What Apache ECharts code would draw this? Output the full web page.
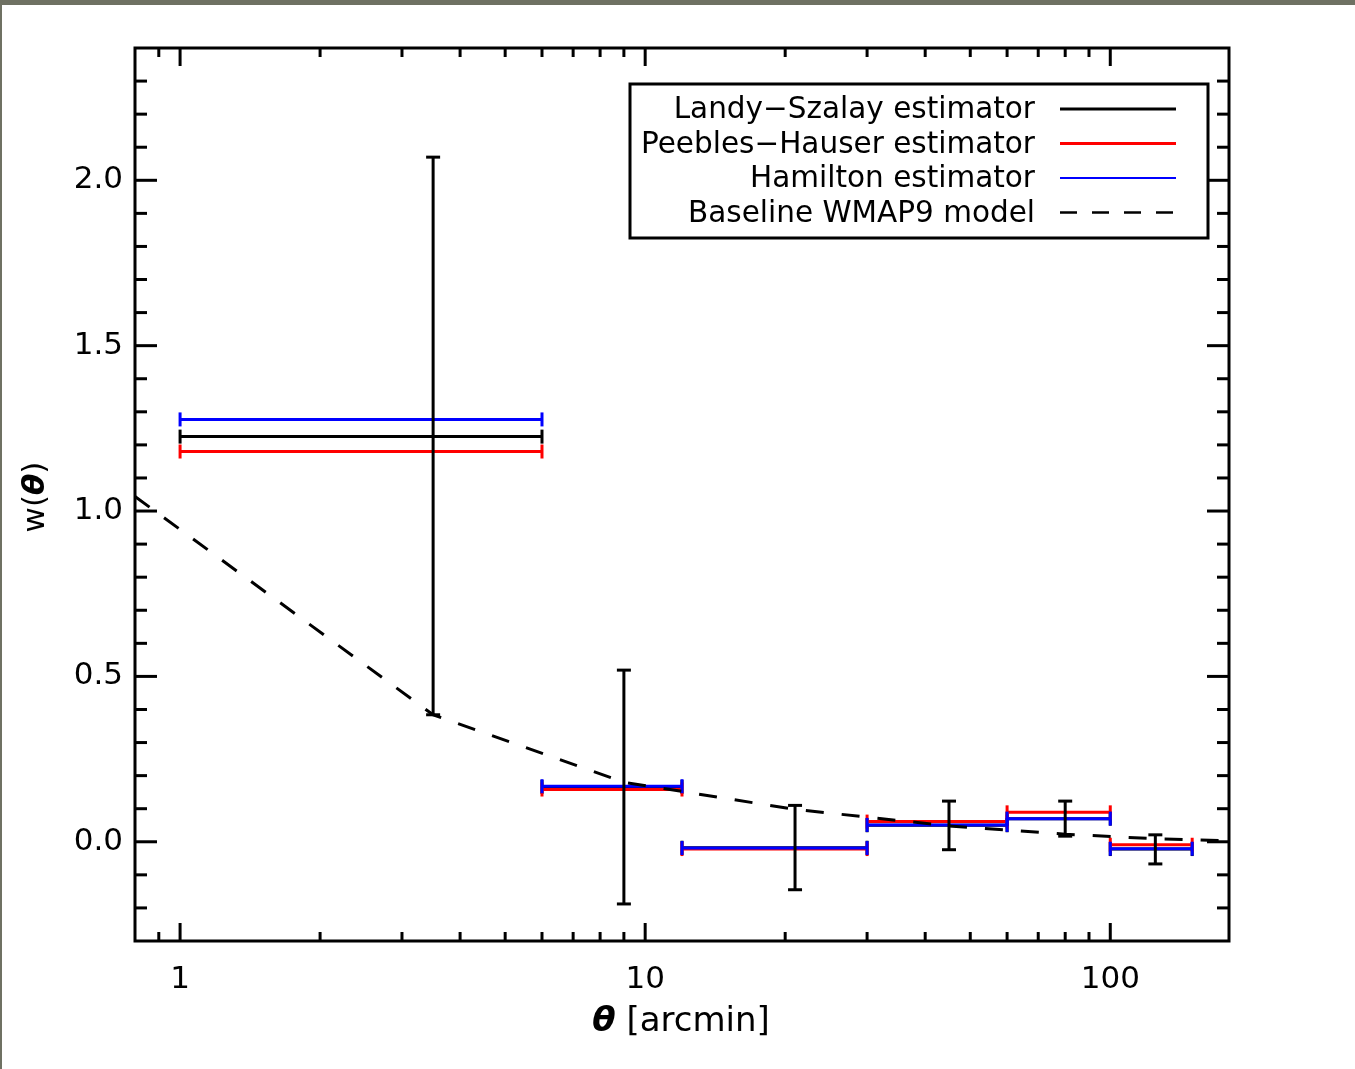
<!DOCTYPE html>
<html><head><meta charset="utf-8">
<script src="https://cdn.jsdelivr.net/npm/echarts@6/dist/echarts.min.js"></script>
<style>
html,body{margin:0;padding:0;background:#fff;}
#c{position:absolute;left:0;top:0;width:1355px;height:1069px;}
#bt{position:absolute;left:0;top:0;width:1355px;height:5px;background:#6f7163;}
#bl{position:absolute;left:0;top:0;width:2px;height:1069px;background:#6f7163;}
</style></head>
<body><div id="c"></div><div id="bt"></div><div id="bl"></div>
<script>
// ---- data ----
const binLow    = [1, 6, 12, 30, 60, 100];
const binHigh   = [6, 12, 30, 60, 100, 150];
const binCenter = [3.5, 9, 21, 45, 80, 125];
const landySzalay   = [1.225, 0.166, -0.018, 0.050, 0.070, -0.022];
const lsErrLow      = [0.384, -0.188, -0.145, -0.024, 0.017, -0.067];
const lsErrHigh     = [2.070, 0.519, 0.110, 0.123, 0.123, 0.021];
const peeblesHauser = [1.180, 0.158, -0.022, 0.061, 0.089, -0.009];
const hamilton      = [1.277, 0.168, -0.019, 0.051, 0.070, -0.021];
const modelTheta = [0.8, 3.5, 9, 21, 45, 80, 125, 180];
const modelW     = [1.044, 0.384, 0.180, 0.098, 0.048, 0.023, 0.009, 0.003];
const xMajorTicks = [1, 10, 100];
const xMinorTicks = [0.9, 2, 3, 4, 5, 6, 7, 8, 9, 20, 30, 40, 50, 60, 70, 80, 90];
const yMajorTicks = [0, 0.5, 1.0, 1.5, 2.0];
const yMinorTicks = [-0.2, -0.1, 0.1, 0.2, 0.3, 0.4, 0.6, 0.7, 0.8, 0.9, 1.1, 1.2, 1.3, 1.4, 1.6, 1.7, 1.8, 1.9, 2.1, 2.2, 2.3];
const xLabels = [1, 10, 100];
const legendNames = ['Landy\u2212Szalay estimator', 'Peebles\u2212Hauser estimator', 'Hamilton estimator', 'Baseline WMAP9 model'];
const X_MIN = 0.8, X_MAX = 180, Y_MIN = -0.3, Y_MAX = 2.4;

// ---- build ----
const FONT = 'DejaVu Sans';
const chart = echarts.init(document.getElementById('c'), null, {renderer: 'canvas'});

function hbarRender(color, lw) {
  return function (params, api) {
    const a = api.coord([api.value(0), api.value(2)]);
    const b = api.coord([api.value(1), api.value(2)]);
    const c = 7;
    const st = {stroke: color, lineWidth: lw};
    return {type: 'group', children: [
      {type: 'line', shape: {x1: a[0], y1: a[1], x2: b[0], y2: b[1]}, style: st},
      {type: 'line', shape: {x1: a[0], y1: a[1] - c, x2: a[0], y2: a[1] + c}, style: st},
      {type: 'line', shape: {x1: b[0], y1: b[1] - c, x2: b[0], y2: b[1] + c}, style: st}
    ]};
  };
}
function vbarRender(params, api) {
  const a = api.coord([api.value(0), api.value(1)]);
  const b = api.coord([api.value(0), api.value(2)]);
  const c = 7;
  const st = {stroke: '#000', lineWidth: 3};
  return {type: 'group', children: [
    {type: 'line', shape: {x1: a[0], y1: a[1], x2: b[0], y2: b[1]}, style: st},
    {type: 'line', shape: {x1: a[0] - c, y1: a[1], x2: a[0] + c, y2: a[1]}, style: st},
    {type: 'line', shape: {x1: b[0] - c, y1: b[1], x2: b[0] + c, y2: b[1]}, style: st}
  ]};
}
function xTickRender(len) {
  return function (params, api) {
    const v = api.value(0);
    const b = api.coord([v, Y_MIN]);
    const t = api.coord([v, Y_MAX]);
    const st = {stroke: '#000', lineWidth: 3};
    return {type: 'group', children: [
      {type: 'line', shape: {x1: b[0], y1: b[1], x2: b[0], y2: b[1] - len}, style: st},
      {type: 'line', shape: {x1: t[0], y1: t[1], x2: t[0], y2: t[1] + len}, style: st}
    ]};
  };
}
function yTickRender(len) {
  return function (params, api) {
    const v = api.value(1);
    const l = api.coord([X_MIN, v]);
    const r = api.coord([X_MAX, v]);
    const st = {stroke: '#000', lineWidth: 3};
    return {type: 'group', children: [
      {type: 'line', shape: {x1: l[0], y1: l[1], x2: l[0] + len, y2: l[1]}, style: st},
      {type: 'line', shape: {x1: r[0], y1: r[1], x2: r[0] - len, y2: r[1]}, style: st}
    ]};
  };
}

const hb = (vals) => binLow.map((lo, i) => [lo, binHigh[i], vals[i]]);
const errData = binCenter.map((c, i) => [c, lsErrLow[i], lsErrHigh[i]]);
const modelData = modelTheta.map((t, i) => [t, modelW[i]]);

// legend graphic
const legX0 = 630, legY0 = 84, legW = 578, legH = 154;
const rowY = [109, 143.5, 178, 212.5];
const legendChildren = [
  {type: 'rect', shape: {x: legX0, y: legY0, width: legW, height: legH}, style: {fill: '#fff', stroke: '#000', lineWidth: 3}}
];
const legStyles = [
  {stroke: '#000', lineWidth: 3},
  {stroke: '#ff0000', lineWidth: 3},
  {stroke: '#0000ff', lineWidth: 2},
  {stroke: '#000', lineWidth: 2.5, lineDash: [17, 15]}
];
legendNames.forEach((n, i) => {
  legendChildren.push({type: 'text', x: 1035, y: rowY[i] + 1.5, style: {text: n, font: '29.5px "' + FONT + '"', fill: '#000', align: 'right', verticalAlign: 'middle'}});
  legendChildren.push({type: 'line', shape: {x1: 1060, y1: rowY[i], x2: 1176, y2: rowY[i]}, style: legStyles[i]});
});

const option = {
  animation: false,
  backgroundColor: '#fff',
  grid: {left: 135, right: 126, top: 48, bottom: 128, show: true, borderColor: '#000', borderWidth: 3, backgroundColor: 'transparent', containLabel: false},
  xAxis: {
    type: 'log', logBase: 10, min: X_MIN, max: X_MAX,
    axisLine: {show: false}, axisTick: {show: false}, splitLine: {show: false}, minorTick: {show: false},
    axisLabel: {
      fontFamily: FONT, fontSize: 31, color: '#000', margin: 23, showMinLabel: false, showMaxLabel: false,
      formatter: function (v) {
        for (const l of xLabels) { if (Math.abs(v - l) / l < 1e-6) return String(l); }
        return '';
      }
    }
  },
  yAxis: {
    type: 'value', min: Y_MIN, max: Y_MAX, interval: 0.1,
    axisLine: {show: false}, axisTick: {show: false}, splitLine: {show: false},
    axisLabel: {
      fontFamily: FONT, fontSize: 31, color: '#000', margin: 12, showMinLabel: true, showMaxLabel: true,
      formatter: function (v) {
        for (const l of yMajorTicks) { if (Math.abs(v - l) < 1e-6) return l.toFixed(1); }
        return '';
      }
    }
  },
  graphic: [
    {type: 'group', children: legendChildren, z: 100},
    {type: 'text', x: 681, y: 1022, style: {text: '{b|\u03b8} [arcmin]', font: '34px "' + FONT + '"', fill: '#000', align: 'center', verticalAlign: 'middle',
      rich: {b: {fontFamily: FONT, fontSize: 34, fontWeight: 'bold', fontStyle: 'italic', fill: '#000'}}}},
    {type: 'text', x: 36, y: 497, rotation: Math.PI / 2, style: {text: 'w({b|\u03b8})', font: '31px "' + FONT + '"', fill: '#000', align: 'center', verticalAlign: 'middle',
      rich: {b: {fontFamily: FONT, fontSize: 31, fontWeight: 'bold', fontStyle: 'italic', fill: '#000'}}}}
  ],
  series: [
    {type: 'custom', name: 'xMajor', renderItem: xTickRender(18), data: xMajorTicks.map(v => [v, Y_MIN]), z: 1, silent: true},
    {type: 'custom', name: 'xMinor', renderItem: xTickRender(9), data: xMinorTicks.map(v => [v, Y_MIN]), z: 1, silent: true},
    {type: 'custom', name: 'yMajor', renderItem: yTickRender(22), data: yMajorTicks.map(v => [X_MIN, v]), z: 1, silent: true},
    {type: 'custom', name: 'yMinor', renderItem: yTickRender(12), data: yMinorTicks.map(v => [X_MIN, v]), z: 1, silent: true},
    {type: 'custom', name: legendNames[0], renderItem: hbarRender('#000', 3), data: hb(landySzalay), encode: {x: [0, 1], y: 2}, z: 2},
    {type: 'custom', name: legendNames[1], renderItem: hbarRender('#ff0000', 3), data: hb(peeblesHauser), encode: {x: [0, 1], y: 2}, z: 3},
    {type: 'custom', name: legendNames[2], renderItem: hbarRender('#0000ff', 3), data: hb(hamilton), encode: {x: [0, 1], y: 2}, z: 4},
    {type: 'custom', name: 'LS errors', renderItem: vbarRender, data: errData, encode: {x: 0, y: [1, 2]}, z: 5},
    {type: 'line', name: legendNames[3], data: modelData, showSymbol: false, symbol: 'none',
      lineStyle: {color: '#000', width: 3, type: [18, 18]}, z: 6, clip: true}
  ]
};
chart.setOption(option);
</script>
</body></html>
